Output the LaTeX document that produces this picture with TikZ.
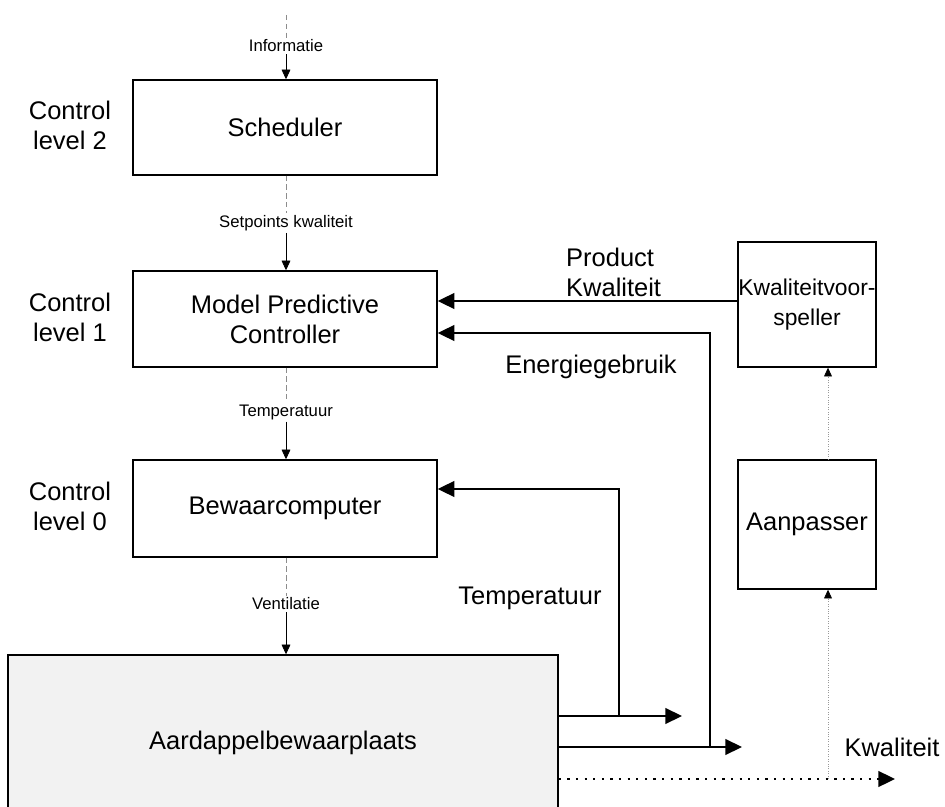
\documentclass[tikz,border=0pt]{standalone}
\usepackage{fontspec}
\setmainfont{Liberation Sans}
\usetikzlibrary{arrows.meta}

\begin{document}
\begin{tikzpicture}[y=-1cm,
        block/.style={rectangle, draw, line width=0.8pt, align=center,
            font=\fontsize{14.5}{17}\selectfont},
        biglabel/.style={align=center, font=\fontsize{14.5}{17}\selectfont},
        smalllabel/.style={inner sep=1pt, font=\fontsize{9.5}{11}\selectfont},
        feedline/.style={draw=black!45, densely dashed, line width=0.4pt},
        feedarrow/.style={line width=0.4pt, -{Triangle[length=5.5pt, width=5pt]}},
        bigarrow/.style={line width=0.9pt, -{Triangle[length=9.5pt, width=9pt]}},
        dotarrow/.style={line width=1.1pt, dash pattern=on 1.3pt off 3.6pt,
            -{Triangle[length=9.5pt, width=9pt]}},
        faintarrow/.style={draw=black!40, densely dotted, line width=0.4pt,
            -{Triangle[length=5pt, width=4.5pt, color=black]}}]
    \useasboundingbox (0,0) rectangle (18.9,16.14);
    \clip (0,0) rectangle (18.9,16.14);
    % control levels
    \node[biglabel] (level2) at (1.4, 2.5) {Control\\level 2};
    \node[biglabel] (level1) at (1.4, 6.34) {Control\\level 1};
    \node[biglabel] (level0) at (1.4, 10.12) {Control\\level 0};
    % blocks
    \node[block, minimum width=6.08cm, minimum height=1.9cm] (sched) at (5.7, 2.55) {Scheduler};
    \node[block, minimum width=6.08cm, minimum height=1.92cm] (mpc) at (5.7, 6.38)
        {Model Predictive\\Controller};
    \node[block, minimum width=6.08cm, minimum height=1.94cm] (bewaar) at (5.7, 10.17)
        {Bewaarcomputer};
    \node[block, fill=black!5, minimum width=11cm, minimum height=3.5cm] (store) at (5.66, 14.85)
        {Aardappelbewaarplaats};
    \node[block, font=\fontsize{13}{17}\selectfont, inner xsep=0pt,
        minimum width=2.76cm, minimum height=2.5cm] (kv) at (16.14, 6.09)
        {Kwaliteitvoor-\\speller};
    \node[block, minimum width=2.76cm, minimum height=2.58cm] (aanp) at (16.14, 10.49)
        {Aanpasser};
    % signals between levels
    \coordinate (infotop) at (5.72, 0.3);
    \node[smalllabel] (info) at (5.72, 0.92) {Informatie};
    \node[smalllabel] (setp) at (5.72, 4.46) {Setpoints kwaliteit};
    \node[smalllabel] (temp) at (5.72, 8.24) {Temperatuur};
    \node[smalllabel] (vent) at (5.72, 12.08) {Ventilatie};
    \draw[feedline] (infotop) -- (info.north);
    \draw[feedarrow] (info.south) -- (info.south |- sched.north);
    \draw[feedline] (setp.north |- sched.south) -- (setp.north);
    \draw[feedarrow] (setp.south) -- (setp.south |- mpc.north);
    \draw[feedline] (temp.north |- mpc.south) -- (temp.north);
    \draw[feedarrow] (temp.south) -- (temp.south |- bewaar.north);
    \draw[feedline] (vent.north |- bewaar.south) -- (vent.north);
    \draw[feedarrow] (vent.south) -- (vent.south |- store.north);
    % feedback
    \node[biglabel, align=left, anchor=west] (pklabel) at (11.2, 5.45) {Product\\Kwaliteit};
    \node[biglabel] (elabel) at (11.82, 7.34) {Energiegebruik};
    \node[biglabel] (tlabel) at (10.6, 11.96) {Temperatuur};
    \node[biglabel] (klabel) at (17.84, 14.94) {Kwaliteit};
    \coordinate (pk) at ([yshift=0.07cm]kv.west);
    \draw[bigarrow] (pk) -- (pk -| mpc.east);
    \coordinate (tend) at (13.64, 14.32);
    \coordinate (tup) at (12.38, 14.32);
    \draw[bigarrow] (store.east |- tend) -- (tend);
    \draw[bigarrow] (tup) |- ([yshift=0.39cm]bewaar.east);
    \coordinate (eend) at (14.84, 14.94);
    \coordinate (eup) at (14.2, 14.94);
    \draw[bigarrow] (store.east |- eend) -- (eend);
    \draw[bigarrow] (eup) |- ([yshift=-0.28cm]mpc.east);
    \coordinate (qend) at (17.9, 15.58);
    \coordinate (qup) at (16.56, 15.58);
    \draw[dotarrow] (store.east |- qend) -- (qend);
    \draw[faintarrow] (qup) -- (qup |- aanp.south);
    \draw[faintarrow] (qup |- aanp.north) -- (qup |- kv.south);
\end{tikzpicture}
\end{document}
